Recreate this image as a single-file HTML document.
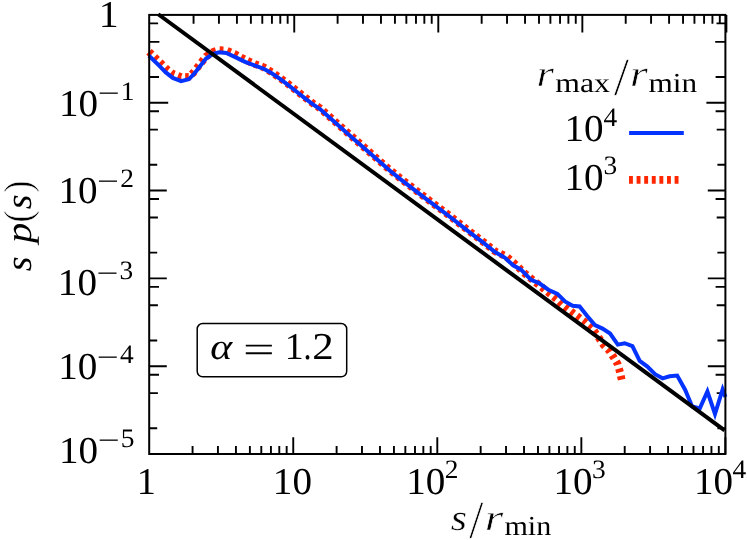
<!DOCTYPE html>
<html><head><meta charset="utf-8"><title>s p(s) vs s/r_min</title>
<style>html,body{margin:0;padding:0;background:#fff;}body{width:747px;height:540px;overflow:hidden;font-family:"Liberation Serif",serif;}svg{display:block;will-change:transform}text{font-family:"Liberation Serif",serif;fill:#000;text-rendering:geometricPrecision}.th{stroke:#fff;stroke-width:0.55px}.i{font-style:italic}</style></head><body>
<svg width="747" height="540" viewBox="0 0 747 540">
<rect width="747" height="540" fill="#fff"/>
<polyline points="149.00,51.70 158.90,61.40 165.80,68.40 172.80,73.90 181.10,77.13 188.75,77.00 193.60,72.40 200.60,63.40 206.10,56.50 213.10,51.90 219.30,50.18 226.25,50.42 235.30,54.32 245.00,59.73 255.00,64.05 263.30,67.11 271.70,72.19 280.00,77.92 288.30,84.15 296.70,90.78 305.00,97.41 313.30,103.74 320.00,108.16 350.00,134.90 380.00,161.30 390.00,170.00 400.00,178.10 425.00,197.30 450.00,216.10 470.00,231.80 483.90,242.30 495.00,251.30 506.10,256.30 513.00,262.20 517.50,266.40 523.50,272.40 529.50,277.20 535.50,282.20 540.00,285.60 545.00,289.80 551.00,294.50 557.00,299.30 562.20,304.30 573.30,313.30 584.40,321.70 592.80,329.30 598.30,336.90 603.90,345.30 609.40,350.80 613.30,356.80 617.50,363.75 619.60,370.70 621.70,379.70" fill="none" stroke="#ff2600" stroke-width="7.8" stroke-dasharray="3.8 3.8" stroke-linejoin="round"/>
<path d="M192.56 454.00V446.00M193.56 14.90V23.70M217.93 454.00V446.00M218.93 14.90V23.70M235.93 454.00V446.00M236.93 14.90V23.70M249.89 454.00V446.00M250.89 14.90V23.70M261.29 454.00V446.00M262.29 14.90V23.70M270.94 454.00V446.00M271.94 14.90V23.70M279.29 454.00V446.00M280.29 14.90V23.70M286.66 454.00V446.00M287.66 14.90V23.70M293.25 454.00V437.30M294.25 14.90V32.50M336.61 454.00V446.00M337.61 14.90V23.70M361.98 454.00V446.00M362.98 14.90V23.70M379.98 454.00V446.00M380.98 14.90V23.70M393.94 454.00V446.00M394.94 14.90V23.70M405.34 454.00V446.00M406.34 14.90V23.70M414.99 454.00V446.00M415.99 14.90V23.70M423.34 454.00V446.00M424.34 14.90V23.70M430.71 454.00V446.00M431.71 14.90V23.70M437.30 454.00V437.30M438.30 14.90V32.50M480.66 454.00V446.00M481.66 14.90V23.70M506.03 454.00V446.00M507.03 14.90V23.70M524.03 454.00V446.00M525.03 14.90V23.70M537.99 454.00V446.00M538.99 14.90V23.70M549.39 454.00V446.00M550.39 14.90V23.70M559.04 454.00V446.00M560.04 14.90V23.70M567.39 454.00V446.00M568.39 14.90V23.70M574.76 454.00V446.00M575.76 14.90V23.70M581.35 454.00V437.30M582.35 14.90V32.50M624.71 454.00V446.00M625.71 14.90V23.70M650.08 454.00V446.00M651.08 14.90V23.70M668.08 454.00V446.00M669.08 14.90V23.70M682.04 454.00V446.00M683.04 14.90V23.70M693.44 454.00V446.00M694.44 14.90V23.70M703.09 454.00V446.00M704.09 14.90V23.70M711.44 454.00V446.00M712.44 14.90V23.70M718.81 454.00V446.00M719.81 14.90V23.70M725.40 454.00V437.30M726.40 14.90V32.50M768.76 454.00V446.00M769.76 14.90V23.70M794.13 454.00V446.00M795.13 14.90V23.70M812.13 454.00V446.00M813.13 14.90V23.70M826.09 454.00V446.00M827.09 14.90V23.70M837.49 454.00V446.00M838.49 14.90V23.70M847.14 454.00V446.00M848.14 14.90V23.70M855.49 454.00V446.00M856.49 14.90V23.70M862.86 454.00V446.00M863.86 14.90V23.70M149.20 23.41H158.10M725.40 23.41H716.50M149.20 41.84H159.40M725.40 41.84H715.20M149.20 76.98H159.00M725.40 76.98H715.60M149.20 102.72H168.20M725.40 102.72H706.40M149.20 111.23H159.00M725.40 111.23H715.60M149.20 129.66H157.90M725.40 129.66H716.70M149.20 164.80H157.20M725.40 164.80H717.40M149.20 190.54H166.80M725.40 190.54H707.80M149.20 199.05H159.00M725.40 199.05H715.60M149.20 217.48H157.90M725.40 217.48H716.70M149.20 252.62H157.20M725.40 252.62H717.40M149.20 278.36H166.80M725.40 278.36H707.80M149.20 286.87H159.00M725.40 286.87H715.60M149.20 305.30H157.90M725.40 305.30H716.70M149.20 340.44H157.20M725.40 340.44H717.40M149.20 366.18H166.80M725.40 366.18H707.80M149.20 374.69H159.00M725.40 374.69H715.60M149.20 393.12H157.90M725.40 393.12H716.70M149.20 428.26H157.20M725.40 428.26H717.40" stroke="#000" stroke-width="1.9" fill="none"/>
<polyline points="149.00,55.70 158.90,65.40 165.80,72.40 172.80,77.90 181.10,81.10 188.75,79.30 193.60,74.40 200.60,65.40 206.10,58.50 213.10,53.90 219.30,52.20 226.25,52.90 235.30,57.10 245.00,61.90 255.00,65.70 263.30,68.50 271.70,73.30 280.00,78.90 288.30,85.10 296.70,91.70 305.00,98.30 313.30,104.60 320.00,109.00 350.00,135.70 380.00,162.10 390.00,170.80 400.00,178.90 425.00,198.10 450.00,216.90 470.00,232.60 483.90,243.10 495.00,252.10 504.70,257.60 513.10,265.30 520.70,269.40 531.10,279.90 539.40,283.30 548.30,289.70 557.40,293.90 565.00,301.50 572.60,305.70 579.60,306.40 587.20,316.10 594.90,325.10 602.50,328.60 610.10,333.50 617.80,344.60 624.70,343.20 632.40,346.00 639.70,361.00 647.40,366.50 655.00,374.20 662.60,378.30 669.60,376.25 677.20,375.60 685.10,389.70 692.10,406.40 699.70,408.50 707.40,391.50 715.00,414.00 722.60,389.50 725.40,397.00" fill="none" stroke="#0433ff" stroke-width="4" stroke-linejoin="miter" stroke-miterlimit="10"/>
<line x1="158.20" y1="14.25" x2="724.60" y2="430.40" stroke="#000" stroke-width="4"/>
<rect x="149.20" y="14.90" width="576.20" height="439.10" fill="none" stroke="#000" stroke-width="2"/>
<text transform="translate(98.80,27.00) scale(1.0465,1.0000)" font-size="38.00">1</text>
<text transform="translate(59.06,115.50) scale(1.0297,1.0000)" font-size="38.00">10</text>
<text transform="translate(97.66,102.20) scale(1.4623,1.0000)" font-size="26.60">−</text>
<text transform="translate(120.80,99.50) scale(1.0300,1.0000)" font-size="26.60">1</text>
<text transform="translate(58.46,203.00) scale(1.0297,1.0000)" font-size="38.00">10</text>
<text transform="translate(97.06,189.70) scale(1.4623,1.0000)" font-size="26.60">−</text>
<text transform="translate(120.20,187.00) scale(1.0300,1.0000)" font-size="26.60">2</text>
<text transform="translate(57.86,295.40) scale(1.0297,1.0000)" font-size="38.00">10</text>
<text transform="translate(96.46,282.10) scale(1.4623,1.0000)" font-size="26.60">−</text>
<text transform="translate(119.60,279.40) scale(1.0300,1.0000)" font-size="26.60">3</text>
<text transform="translate(58.16,379.00) scale(1.0297,1.0000)" font-size="38.00">10</text>
<text transform="translate(96.76,365.70) scale(1.4623,1.0000)" font-size="26.60">−</text>
<text transform="translate(119.90,363.00) scale(1.0300,1.0000)" font-size="26.60">4</text>
<text transform="translate(59.06,462.60) scale(1.0297,1.0000)" font-size="38.00">10</text>
<text transform="translate(97.66,449.30) scale(1.4623,1.0000)" font-size="26.60">−</text>
<text transform="translate(120.80,446.60) scale(1.0300,1.0000)" font-size="26.60">5</text>
<text transform="translate(136.83,494.30) scale(1.0091,1.0000)" font-size="38.00">1</text>
<text transform="translate(272.86,494.30) scale(1.0297,1.0000)" font-size="38.00">10</text>
<text transform="translate(406.26,494.30) scale(1.0297,1.0000)" font-size="38.00">10</text>
<text transform="translate(444.70,478.30) scale(1.0300,1.0000)" font-size="26.60">2</text>
<text transform="translate(553.56,494.30) scale(1.0297,1.0000)" font-size="38.00">10</text>
<text transform="translate(592.00,478.30) scale(1.0300,1.0000)" font-size="26.60">3</text>
<text transform="translate(693.96,494.30) scale(1.0297,1.0000)" font-size="38.00">10</text>
<text transform="translate(732.40,478.30) scale(1.0300,1.0000)" font-size="26.60">4</text>
<text transform="translate(450.69,529.60) scale(1.1366,1.0000)" font-size="36.80" class="i th" style="stroke-width:0.40px">s</text>
<text transform="translate(468.90,537.90) scale(1.4182,1.4700)" font-size="36.80" class="th">/</text>
<text transform="translate(484.67,529.60) scale(1.2908,1.0000)" font-size="36.80" class="i th" style="stroke-width:0.55px">r</text>
<text transform="translate(504.47,534.90) scale(1.0936,1.0000)" font-size="27.50">min</text>
<text transform="translate(30.60,270.80) rotate(-90) translate(-0.46,0) scale(1.0347,1.0000)" font-size="36.80" class="i">s</text>
<text transform="translate(30.60,270.80) rotate(-90) translate(27.77,0) scale(1.1007,1.0000)" font-size="36.80" class="i">p</text>
<text transform="translate(30.60,270.80) rotate(-90) translate(48.34,0) scale(0.9628,1.0700)" font-size="36.80" class="th">(</text>
<text transform="translate(30.60,270.80) rotate(-90) translate(61.64,0) scale(1.0347,1.0000)" font-size="36.80" class="i">s</text>
<text transform="translate(30.60,270.80) rotate(-90) translate(78.25,0) scale(0.9734,1.0700)" font-size="36.80" class="th">)</text>
<text transform="translate(536.59,86.00) scale(1.2135,1.0000)" font-size="36.80" class="i th" style="stroke-width:0.55px">r</text>
<text transform="translate(555.23,91.60) scale(1.1543,1.0000)" font-size="27.50">max</text>
<text transform="translate(613.70,95.00) scale(1.5062,1.4700)" font-size="36.80" class="th">/</text>
<text transform="translate(629.96,86.00) scale(1.2367,1.0000)" font-size="36.80" class="i th" style="stroke-width:0.55px">r</text>
<text transform="translate(648.54,91.60) scale(1.1367,1.0000)" font-size="27.50">min</text>
<text transform="translate(564.46,141.20) scale(1.0297,1.0000)" font-size="38.00">10</text>
<text transform="translate(603.40,125.80) scale(1.0300,1.0000)" font-size="26.60">4</text>
<text transform="translate(564.46,189.50) scale(1.0297,1.0000)" font-size="38.00">10</text>
<text transform="translate(603.40,174.10) scale(1.0300,1.0000)" font-size="26.60">3</text>
<line x1="629.1" y1="133" x2="683.8" y2="133" stroke="#0433ff" stroke-width="4"/>
<line x1="629" y1="179.9" x2="679" y2="179.9" stroke="#ff2600" stroke-width="7.8" stroke-dasharray="3.9 3.7"/>
<rect x="197.2" y="323.5" width="149.5" height="53.3" rx="5.5" ry="5.5" fill="#fff" stroke="#000" stroke-width="1.5"/>
<text transform="translate(210.15,358.90) scale(1.1364,1.0000)" font-size="36.80" class="i">α</text>
<text transform="translate(242.91,362.20) scale(1.4760,1.0000)" font-size="38.00">=</text>
<text transform="translate(284.78,358.80) scale(0.9942,1.0000)" font-size="38.00">1</text>
<text transform="translate(303.58,358.80) scale(0.8463,1.0000)" font-size="38.00">.</text>
<text transform="translate(312.31,358.80) scale(1.1291,1.0000)" font-size="38.00">2</text>
</svg></body></html>
